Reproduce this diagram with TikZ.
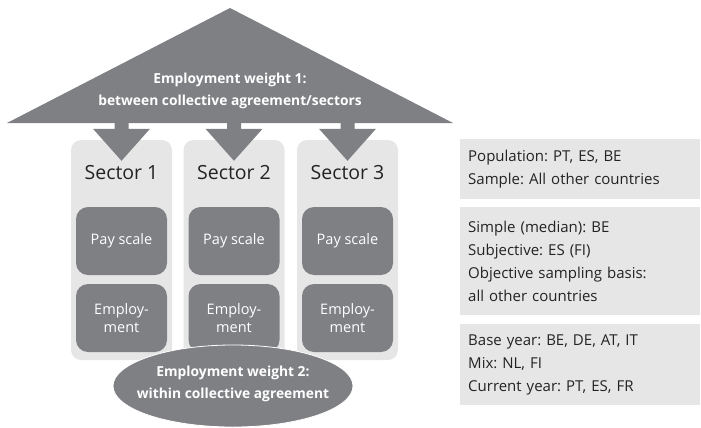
\documentclass[tikz,border=0pt]{standalone}
\usepackage{fontspec}
\setmainfont{Open Sans}
\usetikzlibrary{calc}
\definecolor{boxgray}{RGB}{127,128,132}
\definecolor{panelgray}{RGB}{230,230,231}
\definecolor{inkgray}{RGB}{35,35,35}
\tikzset{
  panel/.style={fill=panelgray, rounded corners=10pt, minimum width=101pt, minimum height=220pt},
  inbox/.style={fill=boxgray, rounded corners=12pt, minimum width=91pt, minimum height=68pt,
    text=white, align=center, font=\fontsize{14.5}{18}\selectfont},
  note/.style={fill=panelgray, anchor=north west, minimum width=240pt, text width=224pt,
    inner xsep=8pt, align=left, text=inkgray, font=\fontsize{15}{23}\selectfont},
  weight/.style={text=white, align=center, font=\bfseries\fontsize{13.8}{22}\selectfont}
}
\begin{document}
\frenchspacing
\begin{tikzpicture}[x=1pt,y=-1pt]
  \useasboundingbox (0,0) rectangle (701,428);

  % Sector panels
  \foreach \i/\x in {1/121.5,2/234,3/347.5}{
    \node[panel] (s\i) at (\x,250) {};
    \node[text=inkgray, font=\fontsize{19.5}{22}\selectfont] (l\i) at (\x,173) {Sector \i};
    \node[inbox] (p\i) at (\x,241) {Pay scale};
    \node[inbox] (e\i) at (\x,318) {Employ-\\ment};
  }

  % Roof
  \fill[boxgray] (7,123) coordinate (rl) -- (230,8) coordinate (rt) -- (453,123) coordinate (rr) -- cycle;
  \node[weight] (w1) at (230,91) {Employment weight 1:\\between collective agreement/sectors};

  % Arrows into the sectors
  \foreach \i in {1,2,3}
    \fill[boxgray] ($(s\i.north)+(-7,-17)$) -- ($(s\i.north)+(7,-17)$) -- ($(s\i.north)+(7,-11)$)
      -- ($(s\i.north)+(28.5,-11)$) -- ($(s\i.north)+(0,21)$) -- ($(s\i.north)+(-28.5,-11)$)
      -- ($(s\i.north)+(-7,-11)$) -- cycle;

  % Ellipse
  \fill[boxgray, draw=white, line width=0.8pt] (233,386) ellipse [x radius=120pt, y radius=41pt];
  \node[weight] (w2) at (233,384) {Employment weight 2:\\within collective agreement};

  % Notes
  \node[note, minimum height=60pt] (n1) at (460,139) {Population: PT, ES, BE\\Sample: All other countries};
  \node[note, minimum height=108pt] (n2) at (460,207) {Simple (median): BE\\Subjective: ES (FI)\\Objective sampling basis:\\all other countries};
  \node[note, minimum height=81pt] (n3) at (460,324) {Base year: BE, DE, AT, IT\\Mix: NL, FI\\Current year: PT, ES, FR};
\end{tikzpicture}
\end{document}
